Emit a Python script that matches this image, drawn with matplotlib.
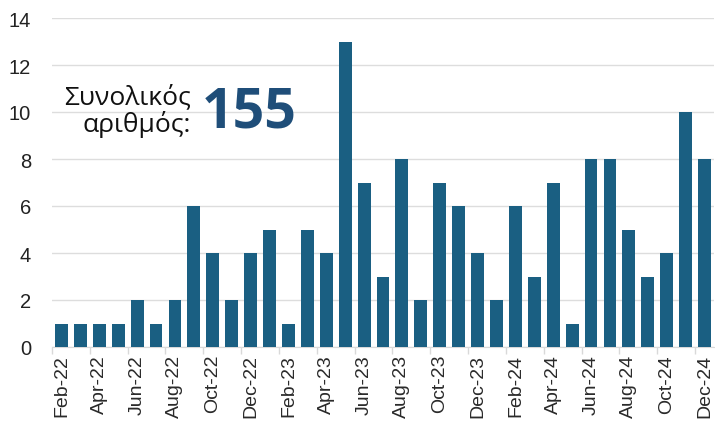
import matplotlib
matplotlib.use("Agg")
import matplotlib.pyplot as plt
import numpy as np

months = ["Feb-22","Mar-22","Apr-22","May-22","Jun-22","Jul-22","Aug-22","Sep-22","Oct-22","Nov-22","Dec-22",
          "Jan-23","Feb-23","Mar-23","Apr-23","May-23","Jun-23","Jul-23","Aug-23","Sep-23","Oct-23","Nov-23","Dec-23",
          "Jan-24","Feb-24","Mar-24","Apr-24","May-24","Jun-24","Jul-24","Aug-24","Sep-24","Oct-24","Nov-24","Dec-24"]
values = [1,1,1,1,2,1,2,6,4,2,4,
          5,1,5,4,13,7,3,8,2,7,6,4,
          2,6,3,7,1,8,8,5,3,4,10,8]
total_label = "Συνολικός\nαριθμός:"
total_value = "155"
yticks = [0, 2, 4, 6, 8, 10, 12, 14]

plt.rcParams['font.family'] = ['Liberation Sans', 'DejaVu Sans']
fig = plt.figure(figsize=(7.15, 4.27), dpi=100)
ax = fig.add_axes([52/715, 1 - 348/427, 662/715, 329/427])
x = np.arange(len(months))
ax.bar(x, values, width=0.68, color="#1a5f82", zorder=3)
ax.set_xlim(-0.5, len(months) - 0.5)
ax.set_ylim(0, 14)
ax.set_yticks(yticks)
ax.set_yticklabels([str(t) for t in yticks], fontsize=14.5, color="#222222")
ax.yaxis.grid(True, color="#dddddd", linewidth=1, zorder=0)
ax.tick_params(axis='y', length=0, pad=15)
ax.set_xticks(x[::2])
ax.set_xticklabels(months[::2], rotation=90, fontsize=14, color="#2a2a2a")
ax.set_xticks(np.arange(-0.5, len(months), 2), minor=True)
ax.tick_params(axis='x', which='major', length=0, pad=5)
ax.tick_params(axis='x', which='minor', length=5, color="#d9d9d9", width=1)
for s in ["top", "right", "left"]:
    ax.spines[s].set_visible(False)
ax.spines["bottom"].set_color("#d9d9d9")

fig.text(191/715, 1 - 111/427, total_label, ha="right", va="center", fontsize=19,
         family=["Open Sans", "DejaVu Sans"], color="#111111", linespacing=1.05)
fig.text(202/715, 1 - 113/427, total_value, ha="left", va="center", fontsize=40,
         fontweight="bold", family=["Open Sans", "DejaVu Sans"], color="#1f4e79")

fig.savefig("out.png", dpi=100)
